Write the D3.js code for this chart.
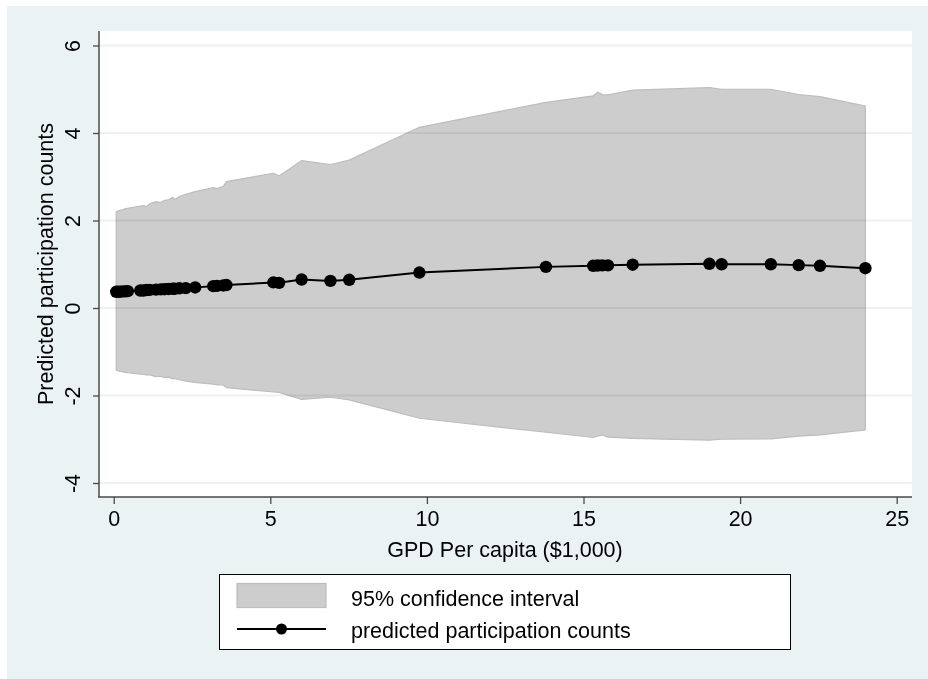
<!DOCTYPE html>
<html>
<head>
<meta charset="utf-8">
<script src="https://cdn.jsdelivr.net/npm/d3@7"></script>
<style>
  body { margin: 0; background: #fff; }
  text { font-family: "Liberation Sans", Arial, sans-serif; fill: #000; }
</style>
</head>
<body>
<div id="chart"></div>
<script>
const gdp = [0.08, 0.15, 0.22, 0.3, 0.38, 0.45, 0.85, 0.95, 1.05, 1.15, 1.35, 1.5, 1.62, 1.75, 1.88, 1.95,
  2.1, 2.3, 2.6, 3.18, 3.3, 3.5, 3.6, 5.1, 5.28, 6.0, 6.92, 7.52, 9.76, 13.8, 15.31, 15.45, 15.6, 15.78,
  16.57, 19.02, 19.41, 20.98, 21.87, 22.55, 24.0];
const predicted = [0.37, 0.37, 0.375, 0.38, 0.38, 0.385, 0.40, 0.40, 0.41, 0.415, 0.42, 0.425, 0.43, 0.435, 0.44, 0.44,
  0.45, 0.455, 0.47, 0.50, 0.505, 0.515, 0.525, 0.585, 0.575, 0.65, 0.62, 0.645, 0.81, 0.94, 0.965, 0.97, 0.975, 0.975,
  0.99, 1.01, 1.0, 1.0, 0.98, 0.965, 0.91];
const upper = [2.20, 2.22, 2.24, 2.25, 2.27, 2.28, 2.33, 2.34, 2.32, 2.38, 2.43, 2.41, 2.46, 2.47, 2.53, 2.48,
  2.55, 2.60, 2.66, 2.75, 2.73, 2.78, 2.89, 3.08, 3.02, 3.37, 3.28, 3.38, 4.13, 4.70, 4.85, 4.93, 4.88, 4.87,
  4.98, 5.04, 5.0, 5.0, 4.88, 4.83, 4.62];
const lower = [-1.42, -1.44, -1.45, -1.46, -1.47, -1.48, -1.51, -1.52, -1.53, -1.53, -1.57, -1.56, -1.59, -1.58, -1.62, -1.61,
  -1.64, -1.67, -1.70, -1.74, -1.76, -1.76, -1.82, -1.92, -1.93, -2.09, -2.04, -2.10, -2.52, -2.84, -2.96, -2.93, -2.90, -2.95,
  -2.98, -3.02, -3.0, -2.99, -2.93, -2.90, -2.79];

const xTicks = [0, 5, 10, 15, 20, 25];
const yTicks = [-4, -2, 0, 2, 4, 6];
const legendLabels = ["95% confidence interval", "predicted participation counts"];

const W = 928, H = 679;
const bandFill = "#cdcdcd", bandStroke = "#bdbdbd", gridColor = "#eaf2f3";

const data = gdp.map((g, i) => ({ x: g, y: predicted[i], lo: lower[i], hi: upper[i] }));

const svg = d3.select("#chart").append("svg")
    .attr("width", W)
    .attr("height", H);

// outer graph region
svg.append("rect")
    .attr("x", 7).attr("y", 6)
    .attr("width", W - 7).attr("height", H - 6)
    .attr("fill", gridColor);

// plot region
const plot = { left: 98, right: 912, top: 31, bottom: 497 };
svg.append("rect")
    .attr("x", plot.left).attr("y", plot.top)
    .attr("width", plot.right - plot.left).attr("height", plot.bottom - plot.top)
    .attr("fill", "#fff");

const x = d3.scaleLinear().domain([0, 25]).range([113.7, 896.7]);
const y = d3.scaleLinear().domain([-4, 6]).range([483, 45.5]);

// confidence band
svg.append("path")
    .datum(data)
    .attr("d", d3.area().x(d => x(d.x)).y0(d => y(d.lo)).y1(d => y(d.hi)))
    .attr("fill", bandFill)
    .attr("stroke", bandStroke)
    .attr("stroke-width", 1.2);

// gridlines (show through the band)
svg.append("g")
    .style("mix-blend-mode", "multiply")
    .selectAll("line")
    .data(yTicks)
    .join("line")
    .attr("x1", plot.left + 1).attr("x2", plot.right)
    .attr("y1", d => y(d)).attr("y2", d => y(d))
    .attr("stroke", gridColor)
    .attr("stroke-width", 2);

// prediction line + markers
svg.append("path")
    .datum(data)
    .attr("d", d3.line().x(d => x(d.x)).y(d => y(d.y)))
    .attr("fill", "none")
    .attr("stroke", "#000")
    .attr("stroke-width", 2);

svg.append("g")
    .selectAll("circle")
    .data(data)
    .join("circle")
    .attr("cx", d => x(d.x))
    .attr("cy", d => y(d.y))
    .attr("r", 6.2)
    .attr("fill", "#000");

// axes
const axisColor = "#4a4a4a";
const yAxis = svg.append("g").attr("transform", `translate(${plot.left + 1},0)`)
    .call(d3.axisLeft(y).tickValues(yTicks).tickSize(6).tickPadding(9).tickFormat(d => String(d)));
const xAxis = svg.append("g").attr("transform", `translate(0,${plot.bottom})`)
    .call(d3.axisBottom(x).tickValues(xTicks).tickSize(7).tickPadding(7).tickFormat(d => String(d)));

[xAxis, yAxis].forEach(a => {
    a.select(".domain").remove();
    a.selectAll(".tick line").attr("stroke", axisColor).attr("stroke-width", 1.3);
    a.selectAll("text").style("font-size", "21.5px").attr("fill", "#000");
});

yAxis.selectAll(".tick text")
    .attr("x", null).attr("dy", null)
    .attr("text-anchor", "middle")
    .attr("transform", "translate(-19,0) rotate(-90)");

xAxis.selectAll(".tick text").attr("dy", "0.72em");

svg.append("line")
    .attr("x1", plot.left + 1).attr("x2", plot.left + 1)
    .attr("y1", plot.top).attr("y2", plot.bottom)
    .attr("stroke", axisColor).attr("stroke-width", 1.5);
svg.append("line")
    .attr("x1", plot.left).attr("x2", plot.right)
    .attr("y1", plot.bottom).attr("y2", plot.bottom)
    .attr("stroke", axisColor).attr("stroke-width", 1.5);

// axis titles
svg.append("text")
    .attr("transform", `translate(53,${(plot.top + plot.bottom) / 2}) rotate(-90)`)
    .attr("text-anchor", "middle")
    .style("font-size", "21.5px")
    .text("Predicted participation counts");

svg.append("text")
    .attr("x", (plot.left + plot.right) / 2)
    .attr("y", 557)
    .attr("text-anchor", "middle")
    .style("font-size", "21.5px")
    .text("GPD Per capita ($1,000)");

// legend
const legend = svg.append("g");
legend.append("rect")
    .attr("x", 219.5).attr("y", 574.5)
    .attr("width", 571).attr("height", 75)
    .attr("fill", "#fff").attr("stroke", "#000").attr("stroke-width", 1);
legend.append("rect")
    .attr("x", 237).attr("y", 583.5)
    .attr("width", 89).attr("height", 24)
    .attr("fill", bandFill).attr("stroke", bandStroke).attr("stroke-width", 1.2);
legend.append("line")
    .attr("x1", 237).attr("x2", 326)
    .attr("y1", 629).attr("y2", 629)
    .attr("stroke", "#000").attr("stroke-width", 2);
legend.append("circle")
    .attr("cx", 281.5).attr("cy", 629).attr("r", 5.5)
    .attr("fill", "#000");
legend.selectAll("text")
    .data(legendLabels)
    .join("text")
    .attr("x", 351)
    .attr("y", (d, i) => 605.5 + i * 32)
    .style("font-size", "21.5px")
    .text(d => d);
</script>
</body>
</html>
